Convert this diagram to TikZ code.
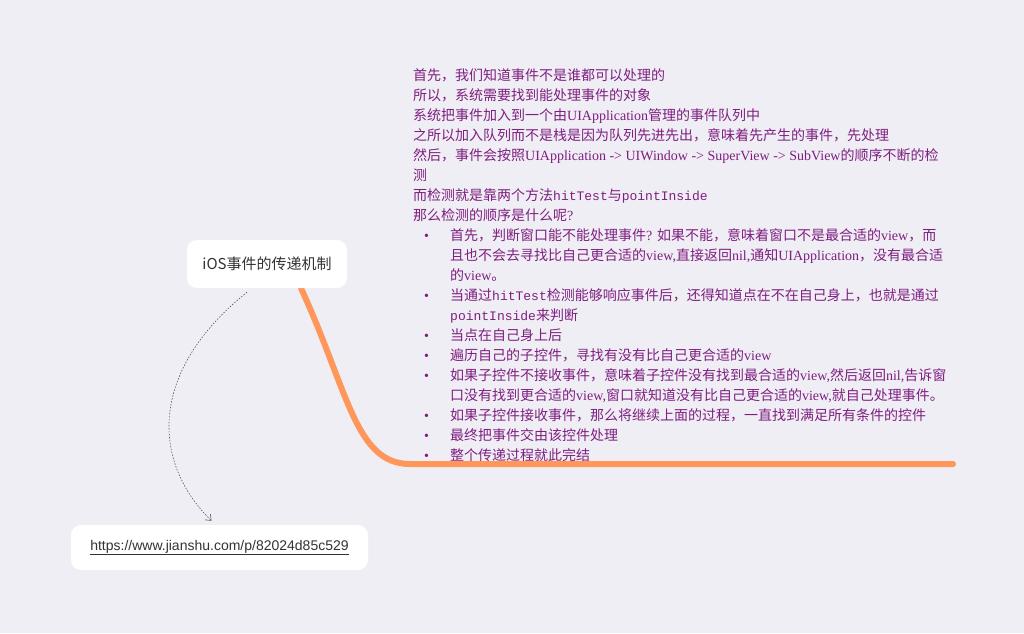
\documentclass[tikz,border=0pt]{standalone}
\usepackage{fontspec}
\setmainfont{Noto Sans CJK SC}
\newfontfamily\latinserif{Liberation Serif}
\newfontfamily\codefont{Liberation Mono}
\newfontfamily\uisans{Liberation Sans}
\usetikzlibrary{arrows.meta,backgrounds}

\definecolor{canvasbg}{RGB}{238,238,244}
\definecolor{notepurple}{RGB}{128,30,128}
\definecolor{branchorange}{RGB}{255,150,90}
\definecolor{labelgray}{RGB}{51,51,51}
\definecolor{arrowgray}{RGB}{90,90,90}

\newcommand{\en}[1]{{\latinserif #1}}
\newcommand{\code}[1]{{\codefont\fontsize{13}{14}\selectfont #1}}

\tikzset{
  topic/.style={fill=white, rounded corners=10pt, inner sep=0pt,
    minimum width=160pt, minimum height=48pt, text=labelgray},
  notetext/.style={anchor=base west, inner sep=0pt, text=notepurple,
    font=\fontsize{14}{20}\selectfont},
  branch/.style={draw=branchorange, line width=6pt, line cap=round},
  linkarrow/.style={draw=arrowgray, line width=0.6pt,
    dash pattern=on 1.5pt off 1.5pt, -{Straight Barb[length=5pt,width=8pt]}}
}

\begin{document}
\begin{tikzpicture}[x=1pt, y=-1pt]

	\useasboundingbox (0,0) rectangle (1024,633);

	% Column positions
	\def\textx{413}
	\def\dotx{424}
	\def\itemx{450}

	% Topic boxes
	\node[topic] (root) at (267,264)
		{\fontsize{15}{15}\selectfont iOS事件的传递机制};
	\node[topic, minimum width=297pt, minimum height=45pt] (link) at (219.5,547.5)
		{\uisans\fontsize{14}{14}\selectfont\underline{https://www.jianshu.com/p/82024d85c529}};

	% Note lines
	\node[notetext] (n1) at (\textx, 80) {首先，我们知道事件不是谁都可以处理的};
	\node[notetext] (n2) at (\textx, 100) {所以，系统需要找到能处理事件的对象};
	\node[notetext] (n3) at (\textx, 120) {系统把事件加入到一个由\en{UIApplication}管理的事件队列中};
	\node[notetext] (n4) at (\textx, 140) {之所以加入队列而不是栈是因为队列先进先出，意味着先产生的事件，先处理};
	\node[notetext] (n5) at (\textx, 160) {然后，事件会按照\en{UIApplication -> UIWindow -> SuperView -> SubView}的顺序不断的检};
	\node[notetext] (n6) at (\textx, 180) {测};
	\node[notetext] (n7) at (\textx, 200) {而检测就是靠两个方法\code{hitTest}与\code{pointInside}};
	\node[notetext] (n8) at (\textx, 220) {那么检测的顺序是什么呢\en{?}};

	% Bullet items
	\node[notetext] (i1a) at (\itemx, 240) {首先，判断窗口能不能处理事件\en{? }如果不能，意味着窗口不是最合适的\en{view}，而};
	\node[notetext] (i1b) at (\itemx, 260) {且也不会去寻找比自己更合适的\en{view,}直接返回\en{nil,}通知\en{UIApplication}，没有最合适};
	\node[notetext] (i1c) at (\itemx, 280) {的\en{view}。};
	\node[notetext] (i2a) at (\itemx, 300) {当通过\code{hitTest}检测能够响应事件后，还得知道点在不在自己身上，也就是通过};
	\node[notetext] (i2b) at (\itemx, 320) {\code{pointInside}来判断};
	\node[notetext] (i3) at (\itemx, 340) {当点在自己身上后};
	\node[notetext] (i4) at (\itemx, 360) {遍历自己的子控件，寻找有没有比自己更合适的\en{view}};
	\node[notetext] (i5a) at (\itemx, 380) {如果子控件不接收事件，意味着子控件没有找到最合适的\en{view,}然后返回\en{nil,}告诉窗};
	\node[notetext] (i5b) at (\itemx, 400) {口没有找到更合适的\en{view,}窗口就知道没有比自己更合适的\en{view,}就自己处理事件。};
	\node[notetext] (i6) at (\itemx, 420) {如果子控件接收事件，那么将继续上面的过程，一直找到满足所有条件的控件};
	\node[notetext] (i7) at (\itemx, 440) {最终把事件交由该控件处理};
	\node[notetext] (i8) at (\itemx, 460) {整个传递过程就此完结};

	% Bullets
	\foreach \y in {240,300,340,360,380,420,440,460}
		\node[notetext] at (\dotx, \y) {\en{•}};

	% Underline of the note
	\coordinate (underleft) at (410,464);
	\coordinate (underright) at (953,464);

	% Branch and link, behind the boxes
	\begin{scope}[on background layer]
		\fill[canvasbg] (0,0) rectangle (1024,633);
		\draw[branch] ([xshift=34pt]root.south) .. controls (348,390) and (355,464) .. (underleft) -- (underright);
	\end{scope}

	\draw[linkarrow] ([xshift=-20pt,yshift=-4pt]root.south) .. controls (150,370) and (150,460) .. ([xshift=-8pt,yshift=4pt]link.north);

\end{tikzpicture}
\end{document}
